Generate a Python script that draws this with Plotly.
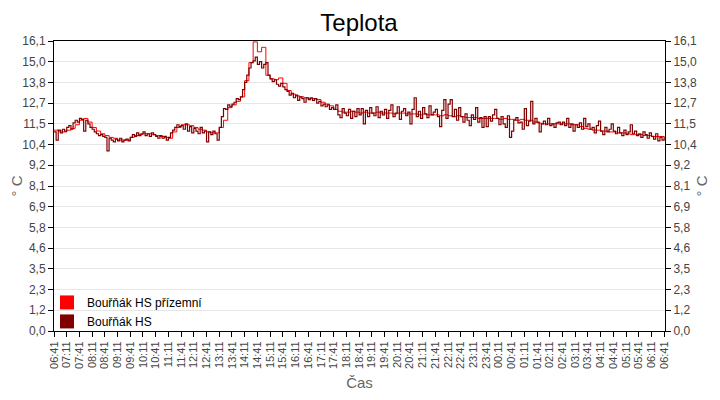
import pandas as pd
import plotly.graph_objects as go

# Teplota - 24 h trace from two sensors, readings every 10 / 5 minutes

start = pd.Timestamp("2024-05-14 06:41")

# Bouřňák HS přízemní - one value per 10 min, six per row = one hour
temp_prizemni = [
    11.15, 11.1, 11.05, 11.15, 11.25, 11.45,
    11.7, 11.8, 11.6, 11.3, 11.1, 10.95,
    10.85, 10.75, 10.7, 10.6, 10.6, 10.6,
    10.75, 10.85, 10.9, 10.95, 10.95, 10.9,
    10.85, 10.8, 10.75, 10.7, 11.05, 11.3,
    11.45, 11.45, 11.4, 11.3, 11.2, 11.15,
    11.05, 11.0, 11.0, 11.3, 11.7, 12.4,
    12.55, 12.75, 13.0, 13.9, 14.9, 16.05,
    15.5, 15.75, 14.2, 14.0, 13.95, 14.05,
    13.75, 13.35, 13.15, 13.05, 13.0, 12.95,
    12.9, 12.9, 12.85, 12.7, 12.6, 12.5,
    12.3, 12.2, 12.15, 12.15, 12.2, 12.15,
    12.1, 12.15, 12.1, 12.1, 12.15, 12.1,
    12.1, 12.1, 12.05, 12.1, 12.1, 12.05,
    12.05, 12.05, 12.0, 12.05, 12.0, 12.0,
    12.0, 11.95, 12.0, 11.95, 11.9, 11.95,
    11.9, 11.85, 11.85, 11.85, 11.8, 11.8,
    11.8, 11.8, 11.8, 11.75, 11.8, 11.75,
    11.75, 11.7, 11.75, 11.7, 11.7, 11.6,
    11.55, 11.5, 11.5, 11.5, 11.5, 11.5,
    11.5, 11.5, 11.45, 11.45, 11.35, 11.25,
    11.2, 11.15, 11.15, 11.1, 11.1, 11.05,
    11.05, 11.0, 11.0, 10.95, 10.9, 10.9,
    10.9, 10.85, 10.85, 10.8, 10.8, 10.8,
    10.8,
]

# Bouřňák HS - one value per 5 min, twelve per row = one hour
temp_hs = [
    11.05, 10.6, 11.15, 11.0, 11.2, 11.1, 11.3, 11.4, 11.2, 11.55, 11.7, 11.6,
    11.8, 11.75, 11.1, 11.7, 11.5, 11.3, 11.2, 11.05, 10.95, 10.85, 10.9, 10.8,
    10.75, 10.0, 10.7, 10.6, 10.5, 10.65, 10.55, 10.7, 10.5, 10.6, 10.65, 10.55,
    10.75, 10.9, 10.8, 11.0, 10.85, 10.95, 11.05, 10.85, 10.95, 10.8, 11.0, 10.9,
    10.8, 10.7, 10.85, 10.7, 10.8, 10.6, 10.75, 11.0, 11.15, 11.3, 11.45, 11.35,
    11.4, 11.2, 11.5, 11.1, 11.35, 11.0, 11.25, 11.1, 10.95, 11.3, 11.0, 11.1,
    10.5, 11.05, 10.9, 11.1, 10.95, 10.6, 11.3, 11.9, 12.35, 12.3, 12.55, 12.45,
    12.6, 12.7, 12.9, 12.85, 13.0, 13.4, 13.8, 14.2, 14.6, 14.9, 15.0, 15.2,
    14.8, 14.95, 14.6, 14.8, 14.9, 14.2, 14.0, 13.85, 13.95, 13.7, 13.6, 13.75,
    13.55, 13.4, 13.3, 13.1, 13.2, 12.95, 13.1, 12.8, 13.0, 12.9, 12.7, 12.95,
    12.85, 12.95, 12.8, 12.9, 12.65, 12.75, 12.5, 12.6, 12.45, 12.55, 12.3, 12.4,
    12.3, 12.55, 12.0, 11.85, 12.35, 12.1, 11.95, 12.3, 11.8, 12.2, 11.9, 12.35,
    12.0, 12.35, 11.5, 12.25, 11.9, 12.4, 12.1, 11.95, 12.45, 11.85, 12.2, 12.0,
    12.3, 11.8, 12.25, 12.55, 11.9, 12.1, 12.45, 11.75, 12.2, 12.35, 11.95, 12.15,
    11.5, 12.3, 12.95, 11.9, 12.2, 11.8, 12.4, 12.05, 11.85, 12.5, 12.0, 12.15,
    12.3, 11.9, 11.35, 12.25, 12.85, 11.8, 12.6, 12.85, 11.9, 12.3, 11.7, 12.4,
    11.9, 11.6, 12.05, 11.7, 11.4, 12.0, 11.75, 12.4, 11.6, 11.85, 11.3, 11.9,
    11.35, 11.9, 11.65, 12.0, 12.3, 11.8, 11.45, 11.9, 11.5, 11.3, 11.95, 10.75,
    11.1, 11.7, 11.85, 11.55, 11.6, 11.2, 12.35, 11.4, 11.65, 12.75, 11.5, 11.8,
    11.6, 11.05, 11.5, 11.65, 11.45, 11.8, 11.4, 11.5, 11.3, 11.55, 11.6, 11.45,
    11.6, 11.4, 11.8, 11.3, 11.5, 11.1, 11.45, 11.3, 11.55, 11.2, 11.8, 11.35,
    11.5, 11.2, 11.3, 11.0, 11.4, 11.65, 11.1, 10.9, 11.3, 11.05, 11.2, 11.5,
    11.1, 10.95, 11.3, 11.0, 10.85, 11.15, 10.9, 11.05, 11.45, 10.95, 11.1, 10.85,
    10.95, 10.75, 11.05, 10.9, 10.7, 11.0, 10.8, 10.65, 10.95, 10.55, 10.75, 10.6,
    10.8,
]

ytick_labels = ["0,0", "1,2", "2,3", "3,5", "4,6", "5,8", "6,9", "8,1",
                "9,2", "10,4", "11,5", "12,7", "13,8", "15,0", "16,1"]
y_step = 1.15

series = [
    ("Bouřňák HS přízemní", "#ff0000"),
    ("Bouřňák HS", "#800000"),
]

t_prizemni = pd.date_range(start, periods=len(temp_prizemni), freq="10min")
t_hs = pd.date_range(start, periods=len(temp_hs), freq="5min")
xticks = pd.date_range(start, periods=49, freq="30min")
yticks = [i * y_step for i in range(len(ytick_labels))]

FONT = "Liberation Sans, Arial, sans-serif"

fig = go.Figure()
fig.add_trace(go.Scatter(
    x=t_prizemni, y=temp_prizemni, mode="lines", line_shape="hv",
    line=dict(color=series[0][1], width=1), showlegend=False, yaxis="y",
))
fig.add_trace(go.Scatter(
    x=t_hs, y=temp_hs, mode="lines", line_shape="hv",
    line=dict(color=series[1][1], width=1.2), showlegend=False, yaxis="y2",
))
# square legend swatches
for name, color in series:
    fig.add_trace(go.Scatter(
        x=[None], y=[None], mode="markers", name=name,
        marker=dict(symbol="square", size=14, color=color),
    ))

yaxis_common = dict(
    range=[0, 16.1], tickvals=yticks, ticktext=ytick_labels,
    ticks="outside", ticklen=5, tickcolor="black",
    tickfont=dict(size=12, color="#444"),
    title=dict(text="° C", font=dict(size=15, color="#666"), standoff=0),
    showline=True, linecolor="black", linewidth=1,
    zeroline=False, fixedrange=True, automargin=False,
)

# the page body adds an 8 px offset, so the figure is 8 px smaller
fig.update_layout(
    width=712, height=392,
    margin=dict(l=46, r=55, t=33, b=69),
    paper_bgcolor="white", plot_bgcolor="white",
    font=dict(family=FONT, color="black"),
    title=dict(text="Teplota", x=0.493, xanchor="center",
               yref="container", y=0.964, yanchor="middle",
               font=dict(size=24, color="black")),
    xaxis=dict(
        range=[start, start + pd.Timedelta(minutes=1442)],
        tickvals=xticks, tickformat="%H:%M", tickangle=-90,
        ticks="outside", ticklen=5, tickcolor="black",
        tickfont=dict(size=11, color="#444"),
        title=dict(text="Čas", font=dict(size=15, color="#666"), standoff=9),
        showline=True, linecolor="black", mirror=True, showgrid=False,
        zeroline=False, automargin=False,
    ),
    yaxis=dict(**yaxis_common, side="left", showgrid=True,
               gridcolor="#e6e6e6", gridwidth=1),
    yaxis2=dict(**yaxis_common, side="right", overlaying="y", showgrid=False),
    legend=dict(x=-0.0115, y=-0.017, xanchor="left", yanchor="bottom",
                bgcolor="rgba(0,0,0,0)", font=dict(size=12, color="black"),
                tracegroupgap=0),
)

fig.write_html("out.html")
